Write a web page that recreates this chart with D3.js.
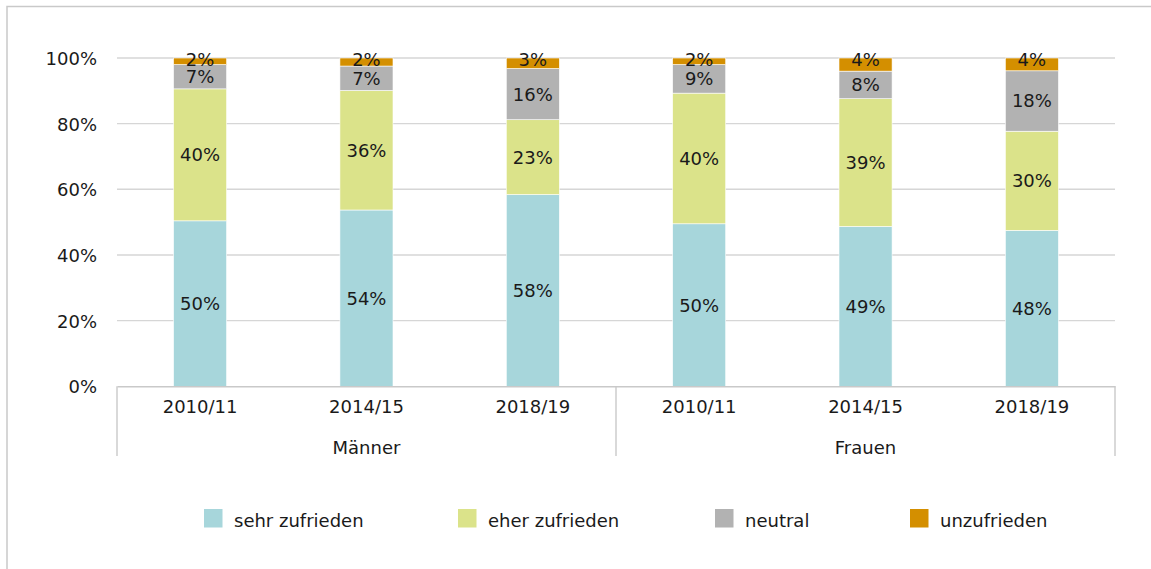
<!DOCTYPE html>
<html>
<head>
<meta charset="utf-8">
<script src="https://cdn.jsdelivr.net/npm/d3@7"></script>
<style>
    body { margin: 0; background: #fff; }
    svg text { font-family: "DejaVu Sans", sans-serif; fill: #1a1a1a; }
</style>
</head>
<body>
<div id="chart"></div>
<script>
(function () {
    'use strict';

    // data
    var groups = ["Männer", "Frauen"];
    var years = ["2010/11", "2014/15", "2018/19"];
    var seriesNames = ["sehr zufrieden", "eher zufrieden", "neutral", "unzufrieden"];
    var sehrZufrieden = [50.4, 53.7, 58.4, 49.5, 48.7, 47.5];
    var eherZufrieden = [40.2, 36.4, 22.8, 39.8, 38.9, 30.2];
    var neutral = [7.4, 7.45, 15.6, 8.7, 8.4, 18.4];
    var unzufrieden = [2.0, 2.45, 3.2, 2.0, 4.0, 3.9];
    var yTicks = [0, 20, 40, 60, 80, 100];

    var colors = ["#a7d6db", "#dbe38a", "#b2b2b2", "#d48f00"];
    var width = 1151, height = 569;
    var plot = { left: 117, right: 1115, top: 58, bottom: 386.3 };

    var keys = [];
    groups.forEach(function (g) {
        years.forEach(function (y) { keys.push(g + "|" + y); });
    });

    var rows = keys.map(function (k, i) {
        return {
            key: k,
            "sehr zufrieden": sehrZufrieden[i],
            "eher zufrieden": eherZufrieden[i],
            "neutral": neutral[i],
            "unzufrieden": unzufrieden[i]
        };
    });

    var svg = d3.select("#chart")
        .append("svg")
        .attr("width", width)
        .attr("height", height);

    //outer frame (only top and left visible)
    svg.append("path")
        .attr("d", "M7,569V6.5H1151")
        .attr("fill", "none")
        .attr("stroke", "#c9c9c9")
        .attr("stroke-width", 1.5);

    var x = d3.scaleBand()
        .domain(keys)
        .range([plot.left, plot.right])
        .paddingInner(0.681)
        .paddingOuter(0.34);

    var y = d3.scaleLinear()
        .domain([0, 100])
        .range([plot.bottom, plot.top]);

    var groupX = d3.scaleBand()
        .domain(groups)
        .range([plot.left, plot.right]);

    // gridlines
    svg.append("g")
        .selectAll("line.grid")
        .data(yTicks.slice(1))
        .enter()
        .append("line")
        .attr("class", "grid")
        .attr("x1", plot.left)
        .attr("x2", plot.right)
        .attr("y1", function (d) { return y(d); })
        .attr("y2", function (d) { return y(d); })
        .attr("stroke", "#d6d6d6")
        .attr("stroke-width", 1.4);

    // y axis labels
    var yAxis = svg.append("g")
        .attr("transform", "translate(" + plot.left + ",0)")
        .call(d3.axisLeft(y)
            .tickValues(yTicks)
            .tickSize(0)
            .tickPadding(20)
            .tickFormat(function (d) { return d + "%"; }));
    yAxis.select(".domain").remove();
    yAxis.selectAll("text")
        .style("font-size", "18px")
        .attr("dy", "0.36em");

    // stacked bars
    var stacked = d3.stack().keys(seriesNames)(rows);

    var layer = svg.append("g")
        .selectAll("g.layer")
        .data(stacked)
        .enter()
        .append("g")
        .attr("class", "layer")
        .attr("fill", function (d, i) { return colors[i]; });

    layer.selectAll("rect")
        .data(function (d) { return d; })
        .enter()
        .append("rect")
        .attr("x", function (d) { return x(d.data.key); })
        .attr("width", x.bandwidth())
        .attr("y", function (d) { return y(d[1]); })
        .attr("height", function (d) { return y(d[0]) - y(d[1]); })
        .attr("stroke", "#fff")
        .attr("stroke-width", 0.6);

    // value labels (the thin top segment keeps its label close to the top edge)
    var lastIdx = seriesNames.length - 1;
    layer.selectAll("text")
        .data(function (d, i) {
            return d.map(function (p) { return { p: p, top: i === lastIdx }; });
        })
        .enter()
        .append("text")
        .attr("text-anchor", "middle")
        .attr("dy", "0.36em")
        .style("font-size", "18px")
        .attr("x", function (d) { return x(d.p.data.key) + x.bandwidth() / 2; })
        .attr("y", function (d) {
            var mid = (y(d.p[0]) + y(d.p[1])) / 2;
            return d.top ? Math.min(mid, y(d.p[1]) + 1.5) : mid;
        })
        .text(function (d) { return Math.round(d.p[1] - d.p[0]) + "%"; });

    // x axis
    var xAxis = svg.append("g")
        .attr("transform", "translate(0," + plot.bottom + ")")
        .call(d3.axisBottom(x)
            .tickSize(0)
            .tickPadding(14)
            .tickFormat(function (d) { return d.split("|")[1]; }));
    xAxis.select(".domain")
        .attr("stroke", "#c9c9c9")
        .attr("stroke-width", 1.4);
    xAxis.selectAll("text")
        .style("font-size", "18px");

    // group separators
    var seps = groups.map(function (g) { return groupX(g); }).concat([plot.right]);
    svg.append("g")
        .selectAll("line.sep")
        .data(seps)
        .enter()
        .append("line")
        .attr("class", "sep")
        .attr("x1", function (d) { return d; })
        .attr("x2", function (d) { return d; })
        .attr("y1", plot.bottom)
        .attr("y2", 456)
        .attr("stroke", "#c9c9c9")
        .attr("stroke-width", 1.4);

    svg.append("g")
        .selectAll("text.group")
        .data(groups)
        .enter()
        .append("text")
        .attr("class", "group")
        .attr("text-anchor", "middle")
        .style("font-size", "18px")
        .attr("x", function (d) { return groupX(d) + groupX.bandwidth() / 2; })
        .attr("y", 454)
        .text(function (d) { return d; });

    // legend
    var legendX = [204, 458, 715, 910];
    var legend = svg.append("g")
        .selectAll("g.legend")
        .data(seriesNames)
        .enter()
        .append("g")
        .attr("class", "legend")
        .attr("transform", function (d, i) { return "translate(" + legendX[i] + ",509)"; });

    legend.append("rect")
        .attr("width", 18.5)
        .attr("height", 18.5)
        .attr("fill", function (d, i) { return colors[i]; });

    legend.append("text")
        .attr("x", 30)
        .attr("y", 17.5)
        .style("font-size", "18px")
        .text(function (d) { return d; });
})();
</script>
</body>
</html>
